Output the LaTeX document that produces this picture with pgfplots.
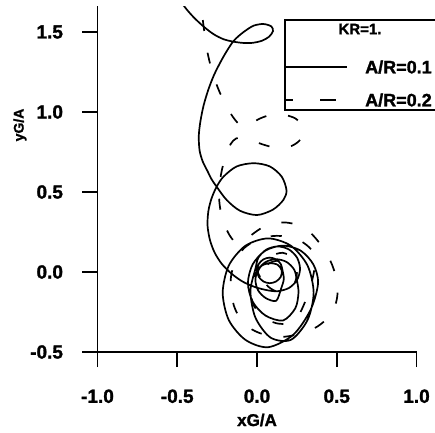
\documentclass[border=0pt]{standalone}
\usepackage{pgfplots}
\pgfplotsset{compat=1.18}
\usepackage{fontspec}
\setmainfont{Liberation Sans}[BoldFeatures={FakeBold=1.5}]
\begin{document}
\begin{tikzpicture}[font=\bfseries]
\begin{axis}[
  at={(0pt,0pt)}, anchor=origin,
  x=159.5pt, y=160pt,
  xmin=-1, xmax=1, ymin=-0.5, ymax=1.66,
  axis lines*=left,
  axis line style={line width=1.9pt},
  xtick={-1,-0.5,0,0.5,1}, ytick={-0.5,0,0.5,1,1.5},
  xticklabels={-1.0,-0.5,0.0,0.5,1.0},
  yticklabels={-0.5,0.0,0.5,1.0,1.5},
  tick align=outside, major tick length=15pt,
  tick style={line width=1.7pt, black},
  xticklabel style={font=\fontsize{19}{19}\bfseries, yshift=-19pt},
  yticklabel style={font=\fontsize{19}{19}\bfseries, xshift=-16pt},
]
\addplot[black, line width=1.7pt, smooth] coordinates {
(-0.50,1.72) (-0.44,1.64) (-0.39,1.585) (-0.33,1.53) (-0.27,1.485) (-0.21,1.455)
(-0.15,1.44) (-0.09,1.432) (-0.03,1.432) (0.03,1.445) (0.075,1.47) (0.10,1.505)
(0.09,1.535) (0.04,1.55) (-0.02,1.54) (-0.07,1.51) (-0.115,1.475) (-0.15,1.44)
(-0.19,1.38) (-0.23,1.31) (-0.27,1.23) (-0.305,1.14) (-0.335,1.04) (-0.355,0.94)
(-0.365,0.85) (-0.36,0.76) (-0.34,0.69) (-0.31,0.63) (-0.285,0.58) (-0.253,0.533)
(-0.19,0.45) (-0.107,0.383) (0.0,0.356) (0.10,0.39) (0.165,0.45) (0.185,0.51)
(0.155,0.596) (0.08,0.66) (-0.02,0.68) (-0.127,0.66) (-0.21,0.596) (-0.253,0.533)
(-0.285,0.46) (-0.305,0.38) (-0.31,0.29) (-0.295,0.20) (-0.265,0.12) (-0.22,0.05)
(-0.16,-0.01) (-0.09,-0.06) (-0.01,-0.095) (0.07,-0.115) (0.13,-0.12)
(0.20,-0.10) (0.251,-0.05) (0.27,0.02) (0.251,0.09) (0.20,0.141) (0.13,0.16)
(0.06,0.141) (0.009,0.09) (-0.01,0.02) (-0.041,-0.12) (-0.01,-0.285) (0.085,-0.41)
(0.2125,-0.424) (0.317,-0.30) (0.355,-0.13) (0.317,0.04) (0.2125,0.164) (0.07,0.21)
(-0.0725,0.164) (-0.177,0.04) (-0.215,-0.13) (-0.177,-0.30) (-0.0725,-0.424) (0.07,-0.47)
(0.2275,-0.392) (0.3365,-0.235) (0.383,-0.069) (0.353,0.048) (0.273,0.134) (0.163,0.165)
(0.053,0.134) (-0.027,0.048) (-0.057,-0.069) (-0.027,-0.186) (0.053,-0.272) (0.163,-0.303)
(0.24,-0.227) (0.26,-0.13) (0.25,-0.05) (0.233,0.015) (0.185,0.063) (0.12,0.08)
(0.055,0.063) (0.007,0.015) (-0.01,-0.05) (0.007,-0.115) (0.055,-0.163) (0.12,-0.18)
(0.15,-0.107) (0.168,-0.045) (0.16,0.01) (0.149,0.05) (0.12,0.079) (0.08,0.09)
(0.04,0.079) (0.011,0.05) (0.0,0.01) (0.011,-0.03) (0.04,-0.059) (0.08,-0.07)
(0.12,-0.059) (0.149,-0.03) (0.155,0.01) (0.13,0.045) (0.08,0.055) (0.03,0.04)
(0.005,0.0) (0.02,-0.03)
};
\addplot[black, line width=1.7pt, smooth, dash pattern=on 11pt off 22pt] coordinates {
(-0.36,1.78) (-0.345,1.62) (-0.33,1.50) (-0.31,1.37) (-0.28,1.25) (-0.245,1.15)
(-0.20,1.05) (-0.155,0.975) (-0.115,0.925) (-0.085,0.905) (-0.05,0.92) (0.02,0.96)
(0.10,0.985) (0.18,0.98) (0.24,0.96) (0.28,0.92) (0.29,0.87) (0.265,0.82)
(0.21,0.785) (0.13,0.775) (0.06,0.79) (0.0,0.81) (-0.07,0.835) (-0.13,0.835)
(-0.165,0.80) (-0.19,0.74) (-0.215,0.66) (-0.232,0.57) (-0.238,0.47) (-0.228,0.38)
(-0.205,0.30) (-0.175,0.235) (-0.14,0.19) (-0.10,0.185) (-0.05,0.22) (0.02,0.27)
(0.09,0.30) (0.17,0.31) (0.25,0.295) (0.33,0.25) (0.40,0.17) (0.46,0.07)
(0.495,-0.03) (0.505,-0.13) (0.49,-0.21) (0.45,-0.28) (0.38,-0.34) (0.29,-0.38)
(0.17,-0.405) (0.06,-0.395) (-0.03,-0.36) (-0.10,-0.30) (-0.145,-0.21) (-0.165,-0.10)
(-0.16,-0.01) (-0.13,0.08) (-0.08,0.15) (0.0,0.20) (0.10,0.225) (0.20,0.22)
(0.28,0.19) (0.34,0.14) (0.365,0.07) (0.355,-0.01) (0.335,-0.09) (0.30,-0.19)
(0.26,-0.27) (0.20,-0.32) (0.12,-0.32) (0.04,-0.28) (-0.02,-0.21) (-0.04,-0.12)
(-0.02,-0.03) (0.03,0.05) (0.09,0.10) (0.16,0.12) (0.22,0.09) (0.25,0.02)
(0.24,-0.06) (0.19,-0.11) (0.12,-0.12) (0.06,-0.08) (0.04,-0.01) (0.07,0.05)
(0.13,0.07) (0.18,0.04) (0.19,-0.02)
};
\end{axis}
% axis labels
\node[font=\fontsize{17}{17}\bfseries] at (0pt,-148pt) {xG/A};
\node[font=\fontsize{14}{14}\bfseries, rotate=90] at (-237pt,147pt) {yG/A};
% legend
\draw[line width=1.9pt] (200pt,252pt) -- (28pt,252pt) -- (28pt,162pt) -- (200pt,162pt);
\node[font=\fontsize{15}{15}\bfseries] at (103pt,243pt) {KR=1.};
\draw[line width=1.7pt] (28pt,205pt) -- (90pt,205pt);
\node[font=\fontsize{18}{18}\bfseries, anchor=west, inner sep=0pt] at (108pt,205pt) {A/R=0.1};
\draw[line width=1.7pt] (28pt,172pt) -- (36pt,172pt);
\draw[line width=1.7pt] (63pt,172pt) -- (79pt,172pt);
\node[font=\fontsize{18}{18}\bfseries, anchor=west, inner sep=0pt] at (108pt,172pt) {A/R=0.2};
\pgfresetboundingbox
\useasboundingbox (-257pt,-160pt) rectangle (178pt,272pt);
\end{tikzpicture}
\end{document}
